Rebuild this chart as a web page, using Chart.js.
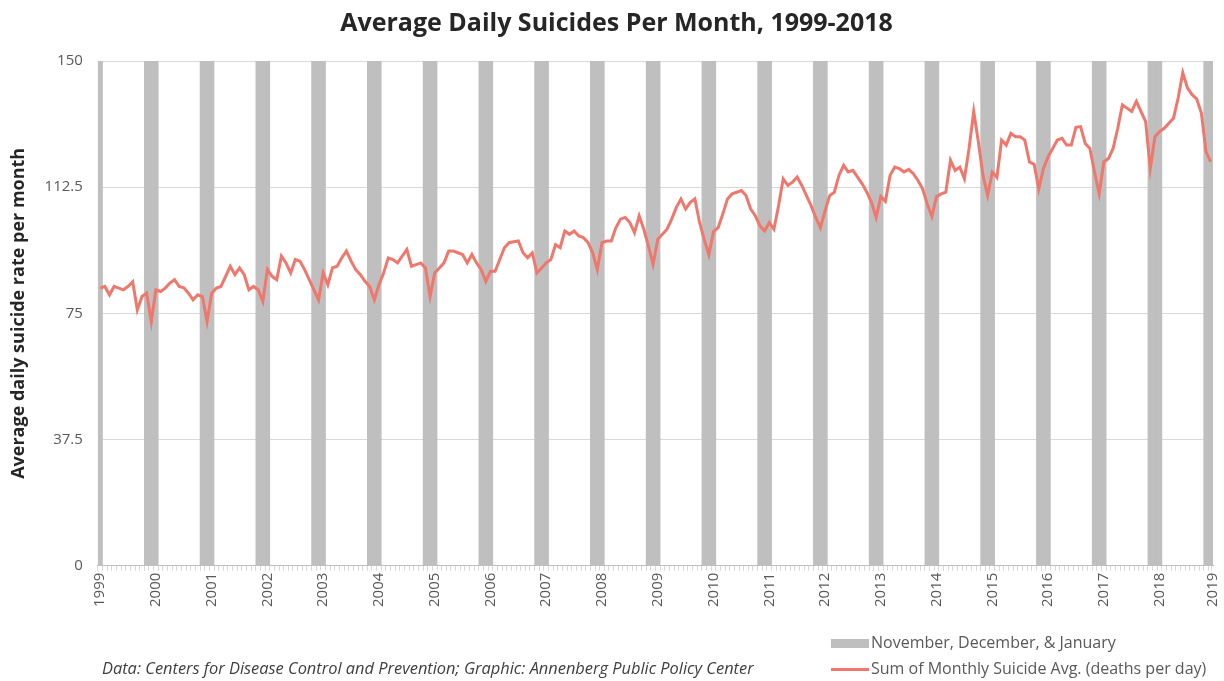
<!DOCTYPE html>
<html>
<head>
<meta charset="utf-8">
<script src="https://cdn.jsdelivr.net/npm/chart.js@4/dist/chart.umd.min.js"></script>
<style>
  html, body { margin: 0; padding: 0; background: #fff; overflow: hidden; }
  #wrap { position: relative; width: 1224px; height: 681px; overflow: hidden; }
  #chart { position: absolute; left: 0; top: 0; }
  .note { position: absolute; font-family: "Open Sans", sans-serif; color: #595959; font-size: 16px; white-space: nowrap; line-height: 20px; }
  .src { left: 102px; top: 658px; font-style: italic; color: #404040; font-size: 16.4px; }
  .leg { left: 831px; }
  .leg span.sw { display: inline-block; width: 38px; vertical-align: middle; margin-right: 2px; }
</style>
</head>
<body>
<div id="wrap">
  <canvas id="chart" width="1233" height="681"></canvas>
  <div class="note leg" style="top:632px"><span class="sw" style="height:9px;background:#bfbfbf"></span><span id="leg0"></span></div>
  <div class="note leg" style="top:658px"><span class="sw" style="height:3px;background:#f0776c"></span><span id="leg1"></span></div>
  <div class="note src">Data: Centers for Disease Control and Prevention; Graphic: Annenberg Public Policy Center</div>
</div>
<script>
// Average daily suicides per month, Jan 1999 - Dec 2018
const years = [1999, 2000, 2001, 2002, 2003, 2004, 2005, 2006, 2007, 2008, 2009,
  2010, 2011, 2012, 2013, 2014, 2015, 2016, 2017, 2018, 2019];
const winterMonths = [10, 11, 0]; // Nov, Dec, Jan
const yTicks = [0, 37.5, 75, 112.5, 150];
const monthlyAvg = [
  82.5, 83, 80.5, 83, 82.5, 82, 83, 84.4, 76, 80, 81, 72.5,        // 1999
  82, 81.5, 82.5, 84, 85, 83, 82.6, 81, 79, 80.5, 80, 72.5,        // 2000
  81, 82.5, 83, 86, 89, 86.5, 88.5, 86.5, 82, 83, 82, 78.5,        // 2001
  88, 86, 85, 92, 90, 87, 91, 90.5, 88, 85, 82, 79,                // 2002
  87, 83.5, 88.5, 89, 91.5, 93.5, 90.5, 88, 86.5, 84.5, 83, 79,    // 2003
  83.5, 87, 91.5, 91, 90, 92, 94, 89, 89.5, 90, 88.5, 80,          // 2004
  87, 88.5, 90, 93.5, 93.5, 93, 92.5, 90, 92.5, 90, 88, 84.5,      // 2005
  87.5, 87.5, 91, 94.5, 96, 96.3, 96.5, 93, 91.5, 93, 87, 88.5,    // 2006
  90, 91, 95.4, 94.5, 99.5, 98.5, 99.5, 98, 97.5, 96, 93, 88,      // 2007
  96, 96.5, 96.5, 100.5, 103, 103.5, 102, 99, 104, 100, 95, 89.5,  // 2008
  97, 98.5, 100, 103, 106.5, 109, 106, 108, 109, 102, 97, 92.4,    // 2009
  99.3, 100.5, 104.5, 109, 110.5, 111, 111.5, 110, 106, 104, 101, 99.5, // 2010
  102, 100, 107, 115, 113, 114, 115.5, 113, 110, 107, 103.5, 100.5,     // 2011
  105.5, 110, 111, 116, 119, 117, 117.5, 115.5, 113.5, 111, 108, 103.5, // 2012
  109.7, 108.3, 116, 118.5, 118, 117, 117.8, 116.5, 114.5, 112, 107.5, 103.8, // 2013
  109.7, 110.5, 111, 120.5, 117.5, 118.5, 115, 124, 135, 126, 116, 110, // 2014
  117, 115.4, 126.5, 125, 128.5, 127.5, 127.5, 126.5, 120, 119.3, 112, 118, // 2015
  121.5, 124, 126.5, 127, 125, 125, 130.3, 130.5, 125.5, 124, 117, 110.5,   // 2016
  120, 121, 124, 130, 137, 136, 135, 138, 135, 132, 118, 127.5,          // 2017
  129, 130, 131.5, 133, 139, 146.5, 142, 140, 138.7, 134.5, 123, 120     // 2018
];

const seriesLabels = ['November, December, & January', 'Sum of Monthly Suicide Avg. (deaths per day)'];
const yMax = yTicks[yTicks.length - 1];
const nMonths = monthlyAvg.length;

const lineData = monthlyAvg.map((v, i) => ({ x: i + 0.5, y: v }));
const winterData = monthlyAvg.map((v, i) => ({ x: i + 0.5, y: winterMonths.includes(i % 12) ? yMax : null }));
const tickValues = monthlyAvg.map((v, i) => i + 0.5).concat([nMonths]);

document.getElementById('leg0').textContent = seriesLabels[0];
document.getElementById('leg1').textContent = seriesLabels[1];

const txt = '#595959';
new Chart(document.getElementById('chart'), {
  type: 'bar',
  data: {
    datasets: [
      {
        type: 'line',
        label: seriesLabels[1],
        data: lineData,
        borderColor: '#f0776c',
        borderWidth: 3,
        pointRadius: 0,
        tension: 0,
        order: 0
      },
      {
        label: seriesLabels[0],
        data: winterData,
        backgroundColor: '#bfbfbf',
        borderWidth: 0,
        barThickness: 'flex',
        barPercentage: 1,
        categoryPercentage: 1,
        order: 1
      }
    ]
  },
  options: {
    responsive: false,
    animation: false,
    layout: { padding: { left: 0, right: 0, top: 4, bottom: 72 } },
    plugins: {
      legend: { display: false },
      tooltip: { enabled: false },
      title: {
        display: true,
        text: 'Average Daily Suicides Per Month, 1999-2018',
        color: '#262626',
        font: { family: 'Open Sans', size: 25, weight: 'bold' },
        padding: { top: 5, bottom: 22 }
      }
    },
    scales: {
      x: {
        type: 'linear',
        min: 0,
        max: nMonths,
        offset: false,
        afterBuildTicks: axis => { axis.ticks = tickValues.map(v => ({ value: v })); },
        ticks: {
          autoSkip: false,
          minRotation: 90,
          maxRotation: 90,
          color: txt,
          font: { family: 'Open Sans', size: 15 },
          padding: 2,
          callback: v => {
            if (v === nMonths) return String(years[years.length - 1]);
            const k = (v - 0.5) / 12;
            return Number.isInteger(k) ? String(years[k]) : '';
          }
        },
        grid: { drawOnChartArea: false, color: '#d9d9d9', tickLength: 5 },
        border: { color: '#bfbfbf' }
      },
      y: {
        min: 0,
        max: yMax,
        afterBuildTicks: axis => { axis.ticks = yTicks.map(v => ({ value: v })); },
        ticks: {
          color: txt,
          font: { family: 'Open Sans', size: 15 },
          padding: 15,
          callback: v => String(v)
        },
        grid: { color: '#d9d9d9', drawTicks: false },
        border: { display: false },
        title: {
          display: true,
          text: 'Average daily suicide rate per month',
          color: '#262626',
          font: { family: 'Open Sans', size: 18, weight: 'bold' },
          padding: { top: 8, bottom: 0 }
        }
      }
    }
  }
});
</script>
</body>
</html>
